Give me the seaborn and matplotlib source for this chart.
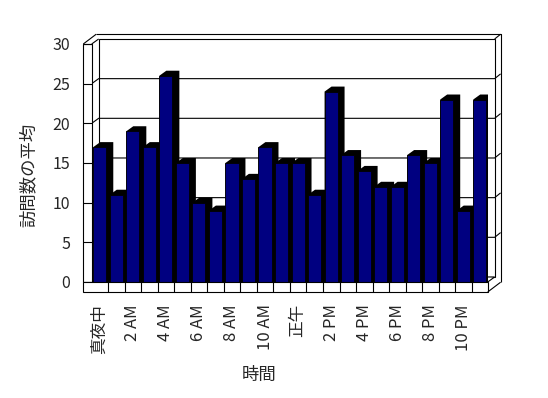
import matplotlib
matplotlib.use('Agg')
import matplotlib.pyplot as plt
import seaborn as sns
import pandas as pd

hours = ['真夜中', '1 AM', '2 AM', '3 AM', '4 AM', '5 AM', '6 AM', '7 AM', '8 AM', '9 AM', '10 AM', '11 AM',
         '正午', '1 PM', '2 PM', '3 PM', '4 PM', '5 PM', '6 PM', '7 PM', '8 PM', '9 PM', '10 PM', '11 PM']
visits = [17, 11, 19, 17, 26, 15, 10, 9, 15, 13, 17, 15,
          15, 11, 24, 16, 14, 12, 12, 16, 15, 23, 9, 23]
y_ticks = [0, 5, 10, 15, 20, 25, 30]

df = pd.DataFrame({'hour': hours, 'visits': visits})

sns.set_style('white')
plt.rcParams['font.family'] = ['Noto Sans CJK JP', 'DejaVu Sans']

fig = plt.figure(figsize=(5.48, 3.98), dpi=100)
ax = fig.add_axes([0.152, 0.2915, 0.738, 0.598])

# depth of the fake 3d box (in category / value units)
DX, DY = 0.42, 0.63
DX2, DY2 = 0.36, 0.6
L, XI, XR = -1.0, -0.49, 23.48
TOP = 30
YF = -1.26
LW = 0.8


def line(xs, ys, z=1):
    ax.plot(xs, ys, color='black', lw=LW, clip_on=False, zorder=z, solid_capstyle='butt')


def poly(xs, ys, fc, z=1):
    ax.fill(xs, ys, facecolor=fc, edgecolor='black', lw=LW, clip_on=False, zorder=z)


# bars (front faces from seaborn, sides/tops added behind them)
sns.barplot(data=df, x='hour', y='visits', color='#000080', saturation=1, width=0.79,
            edgecolor='black', linewidth=0.6, zorder=3, ax=ax)
for p in ax.containers[0]:
    x0, w, h = p.get_x(), p.get_width(), p.get_height()
    ax.fill([x0, x0 + w + DX, x0 + w + DX, x0 + DX, x0], [0, 0, h + DY, h + DY, h],
            color='black', lw=0, zorder=2.5)

# back wall
poly([XI + DX, XR + DX, XR + DX, XI + DX], [DY, DY, TOP + DY, TOP + DY], 'white')
for v in y_ticks[1:-1]:
    line([XI, XI + DX, XR + DX, XR + DX + DX2], [v, v + DY, v + DY, v + DY + DY2])
line([L + DX + DX2, XR + DX + DX2, XR + DX + DX2], [TOP + DY + DY2, TOP + DY + DY2, DY2 * 0.1])
line([XR + DX, XR + DX + DX2], [TOP + DY, TOP + DY + DY2])

# floor top and left wall
poly([XI, XR, XR + DX, XI + DX], [0, 0, DY, DY], 'white')
poly([L, XI, XI, L], [0, 0, TOP, TOP], 'white')
line([L, L + DX + DX2], [TOP, TOP + DY + DY2])
line([XI, XI + DX], [TOP, TOP + DY])
for v in y_ticks:
    line([L, XI], [v, v])

# floor front edge
poly([L, XR, XR, L], [YF, YF, 0, 0], 'white', z=4)
for k in range(1, 24):
    line([XI + k, XI + k], [YF, 0], z=4)
line([XR, XR + DX + DX2], [YF, YF + DY + DY2], z=4)

ax.set_xlim(L, XR)
ax.set_ylim(0, TOP)
ax.set_yticks(y_ticks)
ax.set_yticklabels([str(v) for v in y_ticks], fontsize=11.5)
ax.set_xticks(range(0, 24, 2))
ax.set_xticklabels(hours[::2], rotation=90, fontsize=12)
ax.tick_params(axis='y', length=0, pad=9.5)
ax.tick_params(axis='x', length=0, pad=16)
for s in ax.spines.values():
    s.set_visible(False)
ax.grid(False)
ax.set_facecolor('none')

ax.set_xlabel('時間', fontsize=12.5, va='center')
ax.set_ylabel('訪問数の平均', fontsize=12.5, va='center')
ax.xaxis.set_label_coords(0.434, -0.391)
ax.yaxis.set_label_coords(-0.135, 0.45)

fig.savefig('out.png', dpi=100)
